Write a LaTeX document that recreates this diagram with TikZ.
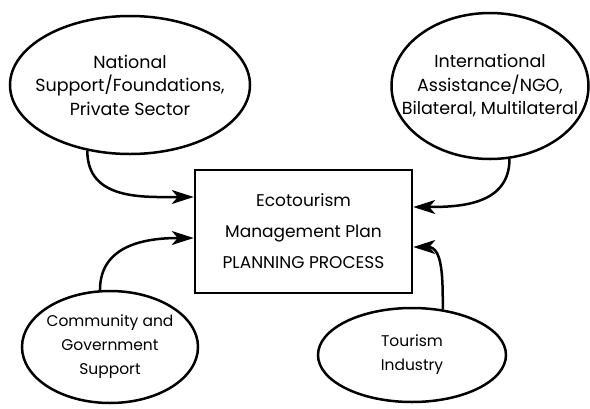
\documentclass[tikz,border=0pt]{standalone}
\usepackage{fontspec}
\setmainfont{Poppins}
\usetikzlibrary{shapes.geometric,arrows.meta}
\tikzset{
  oval/.style={ellipse,draw,line width=2.5pt,inner sep=-40pt,align=center,font=\fontsize{17.5}{23.5}\selectfont},
  smalloval/.style={oval,font=\fontsize{15.5}{24}\selectfont},
  mainbox/.style={rectangle,draw,line width=2.5pt,inner sep=0pt,align=center,font=\fontsize{17}{31}\selectfont},
  link/.style={line width=2.5pt,-{Stealth[length=22pt,width=14pt,inset=6pt]}}
}
\begin{document}
\begin{tikzpicture}[x=1pt,y=-1pt]
\useasboundingbox (0,0) rectangle (590,408);
\node[oval,minimum width=240pt,minimum height=138pt] (nat) at (130,85) {National\\Support/Foundations,\\Private Sector};
\node[oval,minimum width=197pt,minimum height=146pt] (intl) at (490,86) {International\\Assistance/NGO,\\Bilateral, Multilateral};
\node[smalloval,minimum width=176pt,minimum height=112pt] (comm) at (110,347) {Community and\\Government\\Support};
\node[smalloval,minimum width=188pt,minimum height=94pt] (tour) at (412,355) {Tourism\\Industry};
\node[mainbox,minimum width=217pt,minimum height=123pt] (plan) at (303.5,231.5) {Ecotourism\\Management Plan\\PLANNING PROCESS};
\draw[link] (nat.237) to[out=-90,in=180,looseness=1.1] ([yshift=34.5pt]plan.west);
\draw[link] (comm.100) to[out=90,in=180,looseness=1.1] ([yshift=-6.5pt]plan.west);
\draw[link] (intl.285) to[out=-90,in=0,looseness=1.1] ([yshift=24.5pt]plan.east);
\draw[link] (tour.56) to[out=90,in=0,looseness=1.1] ([yshift=-15.5pt]plan.east);
\end{tikzpicture}
\end{document}
